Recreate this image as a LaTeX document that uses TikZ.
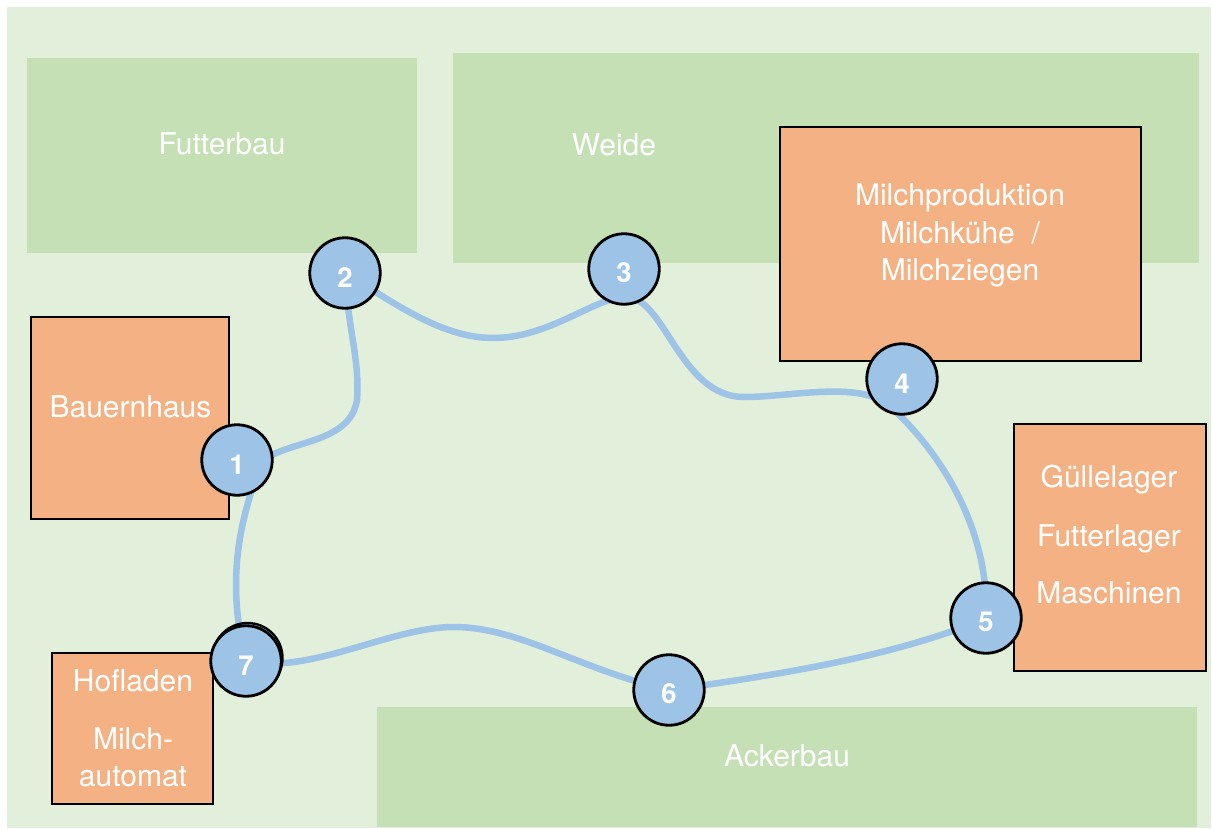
\documentclass[tikz,border=0pt]{standalone}
\usepackage{fontspec}
\setmainfont{TeX Gyre Heros}
\definecolor{meadow}{HTML}{E2EFDA}
\definecolor{fieldgreen}{HTML}{C5E0B4}
\definecolor{barnorange}{HTML}{F4B183}
\definecolor{stopblue}{HTML}{9DC3E6}

\begin{document}
\begin{tikzpicture}[x=1pt, y=-1pt,
  zone/.style={fill=fieldgreen, inner sep=0pt},
  building/.style={fill=barnorange, draw=black, line width=2.4pt, inner sep=0pt},
  lbl/.style={text=white, anchor=base, inner sep=0pt, font=\fontsize{30}{35}\selectfont},
  stop/.style={circle, fill=stopblue, draw=black, line width=2.8pt, minimum size=70.5pt,
    inner sep=0pt, text=white, text height=28pt, font=\bfseries\fontsize{27.5}{28}\selectfont},
  trail/.style={draw=stopblue, line width=6.5pt, line cap=round},
]
\useasboundingbox (0,0) rectangle (1212,829);
\fill[meadow] (7,7) rectangle (1211,828);

% fields
\node[zone, minimum width=390pt, minimum height=195pt] (futterbau) at (222,155.5) {};
\node[zone, minimum width=746pt, minimum height=210pt] (weide) at (826,158) {};
\node[zone, minimum width=820pt, minimum height=120pt] (ackerbau) at (787,767) {};

% buildings
\node[building, minimum width=361pt, minimum height=234pt] (milchvieh) at (960.5,244) {};
\node[building, minimum width=192pt, minimum height=247pt] (lager) at (1110,547.5) {};
\node[building, minimum width=198pt, minimum height=202pt] (bauernhaus) at (130,418) {};
\node[building, minimum width=161pt, minimum height=151pt] (hofladen) at (132.5,728.5) {};

% labels
\node[lbl] (futterbau-txt) at (222,155) {Futterbau};
\node[lbl] (weide-txt) at (614,156) {Weide};
\node[lbl] (ackerbau-txt) at (787,766) {Ackerbau};
\node[lbl] (milchvieh-1) at (960,206) {Milchproduktion};
\node[lbl] (milchvieh-2) at (960,243) {Milchkühe\ \ /};
\node[lbl] (milchvieh-3) at (960,280) {Milchziegen};
\node[lbl] (lager-1) at (1109,487) {Güllelager};
\node[lbl] (lager-2) at (1109,546) {Futterlager};
\node[lbl] (lager-3) at (1109,603) {Maschinen};
\node[lbl] (bauernhaus-txt) at (130.5,417) {Bauernhaus};
\node[lbl] (hofladen-1) at (133,691) {Hofladen};
\node[lbl] (hofladen-2) at (133,749) {Milch-};
\node[lbl] (hofladen-3) at (133,786) {automat};

% stops of the round trip
\coordinate (p1) at (237,460);
\coordinate (p2) at (345,273);
\coordinate (p3) at (624,269);
\coordinate (p4) at (902,379);
\coordinate (p5) at (986,618);
\coordinate (p6) at (669,690);
\coordinate (p7) at (246,661);
\coordinate (c1) at (262,462);
\coordinate (c3) at (626,297);
\coordinate (c4) at (885,402);

\draw[trail] (c1) .. controls (285,440) and (350,445) .. (357,400)
  .. controls (360,360) and (348,330) .. (p2);
\draw[trail] (p2) .. controls (390,300) and (440,338) .. (493,338)
  .. controls (550,338) and (595,297) .. (c3);
\draw[trail] (c3) .. controls (665,297) and (680,397) .. (744,397)
  .. controls (790,397) and (850,382) .. (c4);
\draw[trail] (c4) .. controls (930,440) and (990,520) .. (p5);
\draw[trail] (p5) .. controls (900,655) and (780,675) .. (p6);
\draw[trail] (p6) .. controls (580,670) and (520,627) .. (454,627)
  .. controls (390,627) and (310,675) .. (p7);
\draw[trail] (p7) .. controls (228,590) and (235,530) .. (c1);

\node[stop] (s1) at (p1) {1};
\node[stop] (s2) at (p2) {2};
\node[stop] (s3) at (p3) {3};
\node[stop] (s4) at (p4) {4};
\node[stop] (s5) at (p5) {5};
\node[stop] (s6) at (p6) {6};
\draw[fill=stopblue, draw=black, line width=2.4pt] (p7) ++(1.5,-3) circle[radius=35pt];
\node[stop] (s7) at (p7) {7};
\end{tikzpicture}
\end{document}
